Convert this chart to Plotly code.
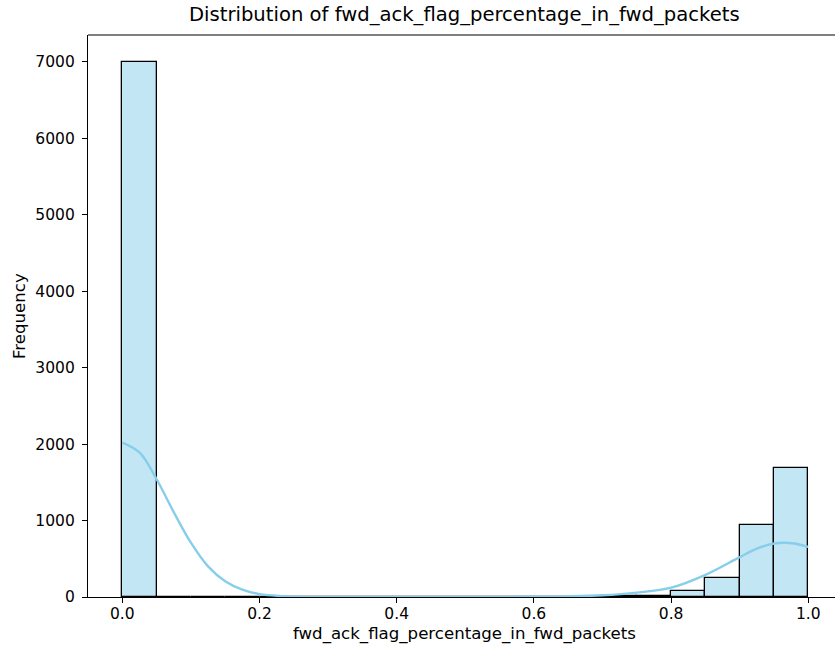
import numpy as np
import plotly.graph_objects as go

# Histogram data (20 bins of width 0.05 from 0 to 1)
bin_edges = [round(i * 0.05, 2) for i in range(21)]
counts = [6995, 0, 0, 0, 0, 0, 0, 0, 0, 0, 0, 0, 2, 4, 8, 14, 85, 255, 945, 1685]

# KDE curve (scaled to counts)
kde_x = [0.0, 0.025, 0.05, 0.075, 0.1, 0.125, 0.15, 0.175, 0.2, 0.25, 0.3, 0.4, 0.5,
         0.6, 0.65, 0.7, 0.75, 0.8, 0.85, 0.9, 0.925, 0.95, 0.965, 0.98, 1.0]
kde_y = [2020, 1890, 1540, 1110, 710, 400, 205, 95, 38, 5, 1, 0, 0,
         3, 8, 22, 58, 122, 290, 522, 632, 700, 710, 700, 655]

x_ticks = [0.0, 0.2, 0.4, 0.6, 0.8, 1.0]
x_ticklabels = ["0.0", "0.2", "0.4", "0.6", "0.8", "1.0"]
y_ticks = [0, 1000, 2000, 3000, 4000, 5000, 6000, 7000]

title_text = "Distribution of fwd_ack_flag_percentage_in_fwd_packets"
xlabel = "fwd_ack_flag_percentage_in_fwd_packets"
ylabel = "Frequency"

centers = [(bin_edges[i] + bin_edges[i + 1]) / 2 for i in range(len(counts))]
widths = [bin_edges[i + 1] - bin_edges[i] for i in range(len(counts))]

FONT = "DejaVu Sans"
FS_TICK = 15.5
FS_LAB = 16.6
W, H = 835, 653
L, R, T, B = 88, 0, 35, 56

fig = go.Figure()
fig.add_trace(go.Bar(
    x=centers, y=counts, width=widths,
    marker=dict(color="rgba(135,206,235,0.5)", line=dict(color="black", width=1.3)),
    hoverinfo="skip", showlegend=False,
))
fig.add_trace(go.Scatter(
    x=kde_x, y=kde_y, mode="lines", line=dict(color="#87CEEB", width=2.4, shape="spline", smoothing=1.0),
    showlegend=False, hoverinfo="skip",
))

axis_common = dict(
    showgrid=False, zeroline=False,
    showline=True, linecolor="black", linewidth=1.2,
    ticks="outside", ticklen=5, tickwidth=1.2, tickcolor="black",
    tickfont=dict(family=FONT, size=FS_TICK, color="black"),
)

fig.update_layout(
    width=W, height=H,
    margin=dict(l=L, r=R, t=T, b=B, pad=0),
    paper_bgcolor="white", plot_bgcolor="white",
    font=dict(family=FONT, size=FS_TICK, color="black"),
    bargap=0,
    xaxis=dict(range=[-0.05, (W - L - R) / 686 - 0.05], tickvals=x_ticks, ticktext=x_ticklabels,
               ticklabelstandoff=-3, **axis_common),
    yaxis=dict(range=[0, 7350], tickvals=y_ticks, ticktext=[str(v) for v in y_ticks],
               ticklabelstandoff=4, **axis_common),
    shapes=[dict(type="line", xref="paper", yref="paper", x0=0, x1=1, y0=1, y1=1,
                 line=dict(color="black", width=1.2))],
    annotations=[
        dict(text=title_text, xref="paper", yref="paper", x=(465 - L) / (W - L - R), y=1 + 21 / (H - T - B),
             xanchor="center", yanchor="middle", showarrow=False,
             font=dict(family=FONT, size=19.6, color="black")),
        dict(text=xlabel, xref="paper", yref="paper", x=(465 - L) / (W - L - R), y=-(634 - (H - B)) / (H - T - B),
             xanchor="center", yanchor="middle", showarrow=False,
             font=dict(family=FONT, size=FS_LAB, color="black")),
        dict(text=ylabel, xref="paper", yref="paper", x=-(L - 19) / (W - L - R), y=0.5,
             xanchor="center", yanchor="middle", showarrow=False, textangle=-90,
             font=dict(family=FONT, size=FS_LAB, color="black")),
    ],
)

fig.write_html("out.html")
